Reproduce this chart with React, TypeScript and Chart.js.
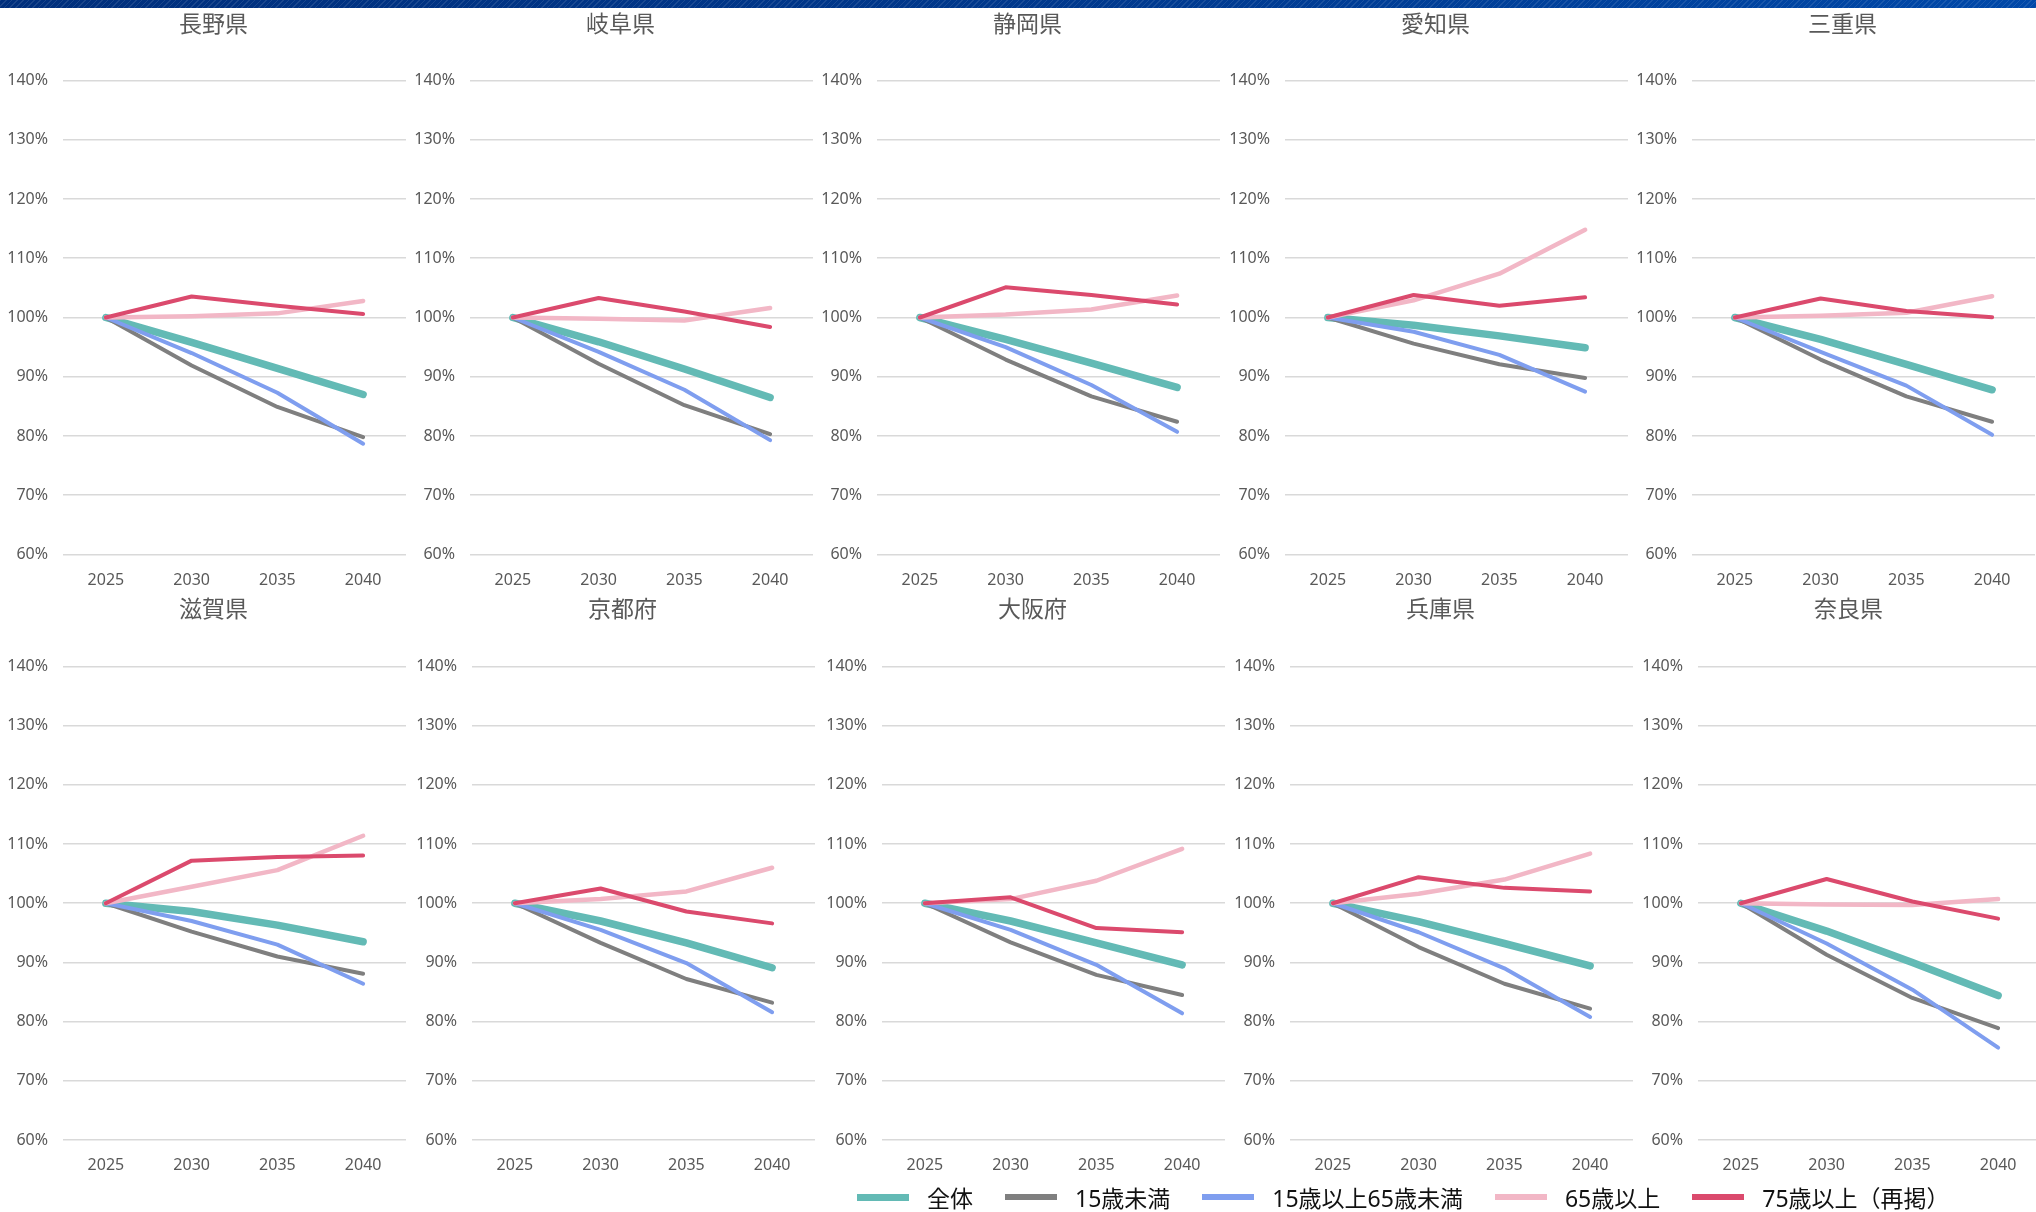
import React, { useEffect, useRef } from 'react';
import { Chart, registerables } from 'chart.js';

Chart.register(...registerables);

// ---- data ----
const YEARS = ['2025', '2030', '2035', '2040'];
const PREFS = ['長野県', '岐阜県', '静岡県', '愛知県', '三重県', '滋賀県', '京都府', '大阪府', '兵庫県', '奈良県'];
const SERIES_NAMES = ['全体', '15歳未満', '15歳以上65歳未満', '65歳以上', '75歳以上（再掲）'];

// 全体
const TOTAL = [
  [100, 95.8, 91.4, 87.0],
  [100, 95.9, 91.3, 86.5],
  [100, 96.3, 92.3, 88.2],
  [100, 98.7, 96.9, 94.9],
  [100, 96.3, 92.1, 87.8],
  [100, 98.6, 96.3, 93.5],
  [100, 97.0, 93.3, 89.1],
  [100, 97.0, 93.3, 89.6],
  [100, 96.9, 93.2, 89.4],
  [100, 95.3, 90.0, 84.4],
];
// 15歳未満
const UNDER15 = [
  [100, 91.9, 84.9, 79.8],
  [100, 92.2, 85.2, 80.3],
  [100, 92.9, 86.7, 82.4],
  [100, 95.6, 92.1, 89.8],
  [100, 92.9, 86.7, 82.4],
  [100, 95.2, 91.0, 88.1],
  [100, 93.3, 87.2, 83.2],
  [100, 93.4, 87.9, 84.5],
  [100, 92.6, 86.4, 82.2],
  [100, 91.3, 84.0, 78.9],
];
// 15歳以上65歳未満
const WORKING = [
  [100, 94.0, 87.3, 78.7],
  [100, 94.2, 87.8, 79.3],
  [100, 95.0, 88.6, 80.7],
  [100, 97.6, 93.7, 87.5],
  [100, 94.2, 88.5, 80.2],
  [100, 97.0, 93.0, 86.4],
  [100, 95.5, 89.9, 81.6],
  [100, 95.5, 89.6, 81.4],
  [100, 95.1, 89.0, 80.8],
  [100, 93.2, 85.4, 75.6],
];
// 65歳以上
const OVER65 = [
  [100, 100.2, 100.7, 102.8],
  [100, 99.8, 99.5, 101.6],
  [100, 100.5, 101.35, 103.7],
  [100, 102.9, 107.4, 114.8],
  [100, 100.3, 100.8, 103.6],
  [100, 102.8, 105.6, 111.4],
  [100, 100.7, 102.0, 106.0],
  [100, 100.7, 103.8, 109.2],
  [100, 101.6, 104.0, 108.4],
  [100, 99.8, 99.7, 100.7],
];
// 75歳以上（再掲）
const OVER75 = [
  [100, 103.55, 102.0, 100.6],
  [100, 103.3, 101.0, 98.4],
  [100, 105.1, 103.8, 102.2],
  [100, 103.8, 102.0, 103.4],
  [100, 103.2, 101.1, 100.05],
  [100, 107.2, 107.8, 108.05],
  [100, 102.5, 98.6, 96.6],
  [100, 101.0, 95.8, 95.1],
  [100, 104.4, 102.6, 102.0],
  [100, 104.1, 100.3, 97.4],
];

const Y_MIN = 60;
const Y_MAX = 140;
const Y_STEP = 10;

// ---- styles ----
const SERIES = [TOTAL, UNDER15, WORKING, OVER65, OVER75];
const COLORS = ['#63BAB5', '#7F7F7F', '#7F9EEF', '#F2B7C6', '#DB4A6D'];
const WIDTHS = [7.5, 4, 4, 4.5, 4];
const FONT = "'Noto Sans', 'Noto Sans CJK JP', sans-serif";
const TEXT_GRAY = '#595959';

const PANEL_W = 407.2;
const DX = [
  [0, 0, 0, 0, 0],
  [0, 2, 5, 5, 6],
];
const ROWS = [
  { top: 8, height: 585, padTop: 72.5, padBottom: 6.5, titleY: 23, xPad: 16.5 },
  { top: 593, height: 587, padTop: 73.5, padBottom: 8, titleY: 608, xPad: 15.5 },
];

Chart.defaults.font.family = FONT;

function panelPos(idx: number) {
  const r = Math.floor(idx / 5);
  const c = idx % 5;
  return { r, left: Math.round(c * PANEL_W) + DX[r][c] };
}

function Panel({ idx }: { idx: number }) {
  const ref = useRef<HTMLCanvasElement | null>(null);
  const { r, left } = panelPos(idx);
  const row = ROWS[r];

  useEffect(() => {
    if (!ref.current) return;
    const chart = new Chart(ref.current, {
      type: 'line',
      data: {
        labels: YEARS,
        datasets: SERIES.map((arr, k) => ({
          label: SERIES_NAMES[k],
          data: arr[idx],
          borderColor: COLORS[k],
          backgroundColor: COLORS[k],
          borderWidth: WIDTHS[k],
          pointRadius: 0,
          pointHoverRadius: 0,
          borderCapStyle: 'round',
          borderJoinStyle: 'round',
          tension: 0,
          order: SERIES.length - 1 - k,
        })),
      },
      options: {
        responsive: false,
        animation: false,
        layout: { padding: { left: 0, right: 1, top: row.padTop, bottom: row.padBottom } },
        plugins: {
          legend: { display: false },
          tooltip: { enabled: false },
          title: { display: false },
        },
        scales: {
          x: {
            offset: true,
            grid: { display: false, drawTicks: false },
            border: { display: false },
            ticks: { color: TEXT_GRAY, font: { size: 16 }, padding: row.xPad, maxRotation: 0 },
            afterFit: (s: any) => {
              s.height = 34;
            },
          },
          y: {
            min: Y_MIN,
            max: Y_MAX,
            ticks: {
              stepSize: Y_STEP,
              color: TEXT_GRAY,
              font: { size: 16 },
              padding: 15,
              callback: (v: any) => `${v}%`,
            },
            grid: { color: '#D9D9D9', lineWidth: 1.6, drawTicks: false },
            border: { display: false },
            afterFit: (s: any) => {
              s.width = 63;
            },
          },
        },
      } as any,
    });
    return () => chart.destroy();
  }, [idx]);

  return (
    <>
      <canvas
        ref={ref}
        width={407}
        height={row.height + 2}
        style={{ position: 'absolute', left, top: row.top, width: 407, height: row.height + 2 }}
      />
      <div
        style={{
          position: 'absolute',
          left: left + 213.5 - 100,
          top: row.titleY - 15,
          width: 200,
          height: 30,
          lineHeight: '30px',
          textAlign: 'center',
          fontFamily: FONT,
          fontSize: 23,
          color: TEXT_GRAY,
          whiteSpace: 'nowrap',
        }}
      >
        {PREFS[idx]}
      </div>
    </>
  );
}

function Legend() {
  return (
    <div
      style={{
        position: 'absolute',
        left: 857,
        top: 1183,
        height: 28,
        display: 'flex',
        alignItems: 'center',
        fontFamily: FONT,
        fontSize: 23,
        color: '#111',
        whiteSpace: 'nowrap',
      }}
    >
      {SERIES_NAMES.map((name, k) => (
        <div key={name} style={{ display: 'flex', alignItems: 'center', marginRight: 32 }}>
          <span
            style={{
              display: 'inline-block',
              width: 52,
              height: k === 0 ? 7 : 6,
              background: COLORS[k],
              marginRight: 18,
            }}
          />
          <span>{name}</span>
        </div>
      ))}
    </div>
  );
}

export default function App() {
  return (
    <div
      style={{
        position: 'fixed',
        left: 0,
        top: 0,
        width: 2036,
        height: 1212,
        background: '#fff',
        overflow: 'hidden',
      }}
    >
      <div
        style={{
          position: 'absolute',
          left: 0,
          top: 0,
          width: 2036,
          height: 8,
          background:
            'repeating-linear-gradient(135deg, rgba(255,255,255,0.10) 0px, rgba(255,255,255,0.10) 1px, rgba(0,0,0,0) 1px, rgba(0,0,0,0) 4px), linear-gradient(90deg, #002f7c 0%, #00388c 50%, #0048a8 100%)',
        }}
      />
      {PREFS.map((_, i) => (
        <Panel key={i} idx={i} />
      ))}
      <Legend />
    </div>
  );
}
